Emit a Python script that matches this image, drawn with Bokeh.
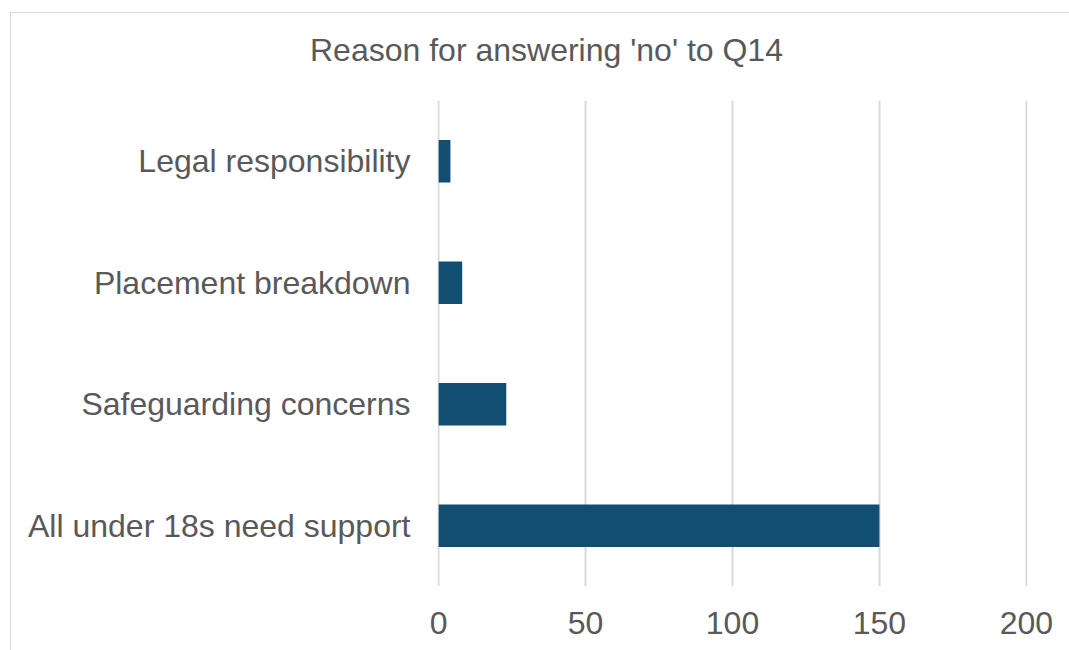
from bokeh.plotting import figure
from bokeh.models import FactorRange, Range1d, FixedTicker, ColumnDataSource, Div
from bokeh.layouts import column
from bokeh.embed import file_html
from bokeh.resources import INLINE

categories = ["All under 18s need support", "Safeguarding concerns",
              "Placement breakdown", "Legal responsibility"]
values = [150, 23, 8, 4]
x_ticks = [0, 50, 100, 150, 200]
title_text = "Reason for answering 'no' to Q14"

FONT = "Liberation Sans"
TXT = "#595959"

source = ColumnDataSource(data=dict(cat=categories, val=values))

title_div = Div(
    text=('<div style="padding-left:299px;padding-top:18px;'
          'font-family:\'Liberation Sans\';font-size:32px;line-height:38px;'
          'color:#595959;white-space:nowrap">' + title_text + '</div>'),
    width=1058, height=87, margin=(0, 0, 0, 0))

p = figure(width=1058, height=550, title=None,
           y_range=FactorRange(*categories), x_range=Range1d(-0.4, 200.4),
           output_backend="svg", toolbar_location=None,
           min_border_left=426, min_border_right=42,
           min_border_top=0, min_border_bottom=64, margin=(0, 0, 0, 0))

p.hbar(y="cat", right="val", left=0, height=0.35, source=source,
       fill_color="#114e71", line_color=None)

p.outline_line_color = None
p.ygrid.grid_line_color = None
p.xgrid.grid_line_color = "#d9d9d9"
p.xgrid.grid_line_width = 2
p.xgrid.level = "underlay"

p.xaxis.ticker = FixedTicker(ticks=x_ticks)
for ax in (p.xaxis[0], p.yaxis[0]):
    ax.axis_line_color = None
    ax.major_tick_line_color = None
    ax.minor_tick_line_color = None
    ax.major_tick_out = 0
    ax.major_tick_in = 0
    ax.major_label_text_font = FONT
    ax.major_label_text_font_size = "32px"
    ax.major_label_text_color = TXT
p.xaxis.major_label_standoff = 25
p.yaxis.major_label_standoff = 27

layout = column(title_div, p, spacing=0)
layout.styles = {"margin-left": "10px", "margin-top": "12px",
                 "border-top": "1px solid #d9d9d9", "border-left": "1px solid #d9d9d9"}

open("out.html", "w").write(file_html(layout, INLINE))
